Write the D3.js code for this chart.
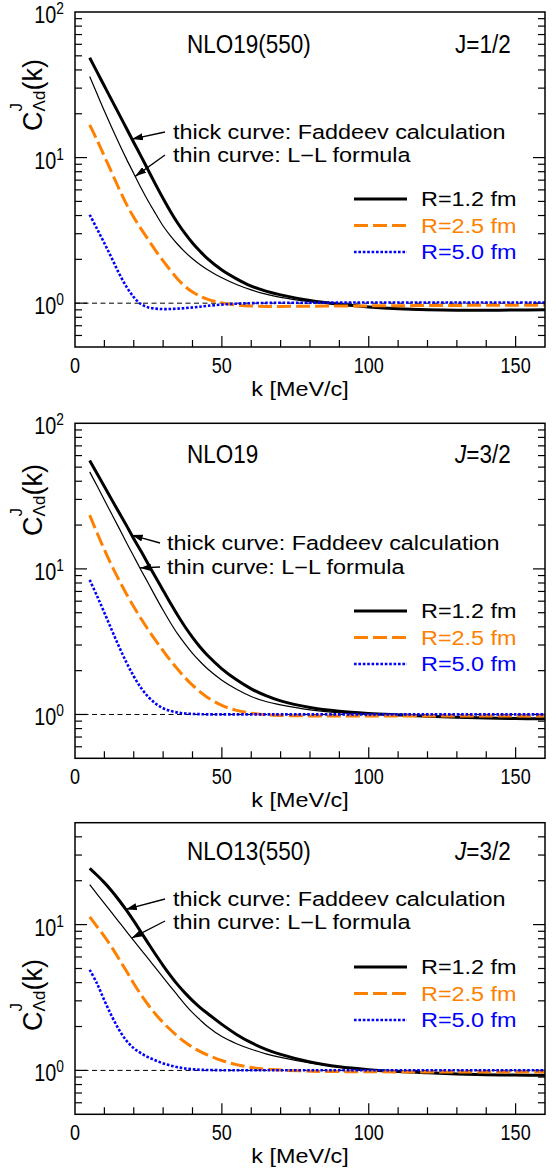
<!DOCTYPE html>
<html>
<head>
<meta charset="utf-8">
<script src="https://cdn.jsdelivr.net/npm/d3@7"></script>
<style>
  html, body { margin: 0; padding: 0; background: #fff; }
  svg { display: block; font-family: "Liberation Sans", Arial, Helvetica, sans-serif; }
</style>
</head>
<body>
<svg id="chart" width="556" height="1171"></svg>
<script>
// Relative momentum grid k [MeV/c] shared by every curve
const kGrid = [5, 7.5, 10, 12.5, 15, 17.5, 20, 22.5, 25, 27.5, 30, 32.5, 35, 37.5, 40, 42.5, 45,
               50, 55, 60, 65, 70, 80, 90, 100, 110, 120, 130, 140, 150, 160];

// NLO19(550), J=1/2
const p1Faddeev12 = [48.5, 38.8, 31.0, 24.8, 19.9, 15.9, 12.7, 10.2, 8.13, 6.5, 5.24, 4.27, 3.54, 3.0, 2.59, 2.28, 2.03,
                     1.69, 1.47, 1.31, 1.21, 1.14, 1.042, 0.982, 0.942, 0.916, 0.902, 0.895, 0.895, 0.897, 0.9];
const p1LL12      = [36.0, 27.4, 20.9, 16.1, 12.5, 9.8, 7.78, 6.18, 4.99, 4.1, 3.39, 2.9, 2.53, 2.24, 2.02, 1.845, 1.706,
                     1.493, 1.343, 1.233, 1.153, 1.096, 1.023, 0.977, 0.94, 0.916, 0.904, 0.9, 0.9, 0.902, 0.904];
const p1R25       = [16.8, 13.2, 10.2, 7.9, 6.1, 4.79, 3.89, 3.24, 2.72, 2.29, 1.95, 1.68, 1.46, 1.30, 1.195, 1.12, 1.067,
                     1.005, 0.973, 0.957, 0.95, 0.95, 0.953, 0.956, 0.958, 0.961, 0.963, 0.965, 0.967, 0.968, 0.968];
const p1R50       = [4.05, 3.24, 2.58, 2.04, 1.6, 1.3, 1.1, 0.985, 0.935, 0.917, 0.911, 0.912, 0.917, 0.925, 0.935, 0.946, 0.958,
                     0.978, 0.992, 1.0, 1.004, 1.006, 1.008, 1.009, 1.01, 1.01, 1.01, 1.01, 1.01, 1.01, 1.01];

// NLO19, J=3/2
const p2Faddeev12 = [55.5, 45.2, 36.8, 29.9, 24.4, 19.9, 16.1, 13.2, 10.7, 8.73, 7.11, 5.81, 4.78, 3.99, 3.39, 2.92, 2.56,
                     2.06, 1.73, 1.5, 1.346, 1.239, 1.117, 1.052, 1.016, 0.993, 0.973, 0.957, 0.946, 0.938, 0.933];
const p2LL12      = [46.4, 37.2, 29.7, 23.8, 19.05, 15.2, 12.2, 9.8, 7.93, 6.4, 5.2, 4.27, 3.56, 3.04, 2.63, 2.32, 2.07,
                     1.72, 1.49, 1.33, 1.227, 1.164, 1.076, 1.028, 1.005, 0.988, 0.97, 0.955, 0.944, 0.938, 0.933];
const p2R25       = [23.4, 17.7, 13.55, 10.54, 8.36, 6.73, 5.5, 4.54, 3.8, 3.21, 2.74, 2.35, 2.04, 1.786, 1.589, 1.435, 1.315,
                     1.153, 1.067, 1.021, 0.995, 0.984, 0.977, 0.975, 0.975, 0.975, 0.975, 0.975, 0.975, 0.975, 0.975];
const p2R50       = [8.4, 6.52, 5.0, 3.81, 2.92, 2.28, 1.83, 1.52, 1.318, 1.186, 1.104, 1.057, 1.03, 1.016, 1.008, 1.005, 1.002,
                     1.002, 1.002, 1.002, 1.002, 1.002, 1.002, 1.002, 1.002, 1.002, 1.002, 1.002, 1.002, 1.002, 1.002];

// NLO13(550), J=3/2
const p3Faddeev12 = [24.3, 21.8, 19.4, 17.0, 14.7, 12.56, 10.6, 8.87, 7.41, 6.21, 5.24, 4.47, 3.86, 3.39, 3.01, 2.71, 2.47,
                     2.07, 1.766, 1.549, 1.396, 1.288, 1.143, 1.059, 1.012, 0.982, 0.962, 0.946, 0.935, 0.929, 0.925];
const p3LL12      = [18.8, 16.2, 14.0, 12.08, 10.42, 8.99, 7.76, 6.71, 5.81, 5.02, 4.35, 3.76, 3.26, 2.83, 2.49, 2.23, 2.01,
                     1.706, 1.524, 1.396, 1.30, 1.23, 1.127, 1.054, 1.009, 0.982, 0.962, 0.946, 0.935, 0.929, 0.927];
const p3R25       = [11.3, 9.7, 8.3, 7.0, 5.8, 4.8, 3.95, 3.3, 2.8, 2.42, 2.13, 1.9, 1.71, 1.56, 1.44, 1.35, 1.28,
                     1.17, 1.095, 1.047, 1.02, 1.005, 0.988, 0.981, 0.978, 0.977, 0.977, 0.977, 0.977, 0.977, 0.977];
const p3R50       = [4.9, 3.94, 3.02, 2.36, 1.9, 1.6, 1.42, 1.31, 1.23, 1.17, 1.117, 1.079, 1.052, 1.03, 1.019, 1.01, 1.007,
                     1.003, 1.002, 1.002, 1.002, 1.002, 1.002, 1.002, 1.002, 1.002, 1.002, 1.002, 1.002, 1.002, 1.002];

// Axis ranges and tick labels
const kDomain = [0, 160];
const kTickValues = [0, 50, 100, 150];
const yDomains = [[0.5, 100], [0.5, 100], [0.5, 50]];
const decadeExponents = [0, 1, 2];

// Panel texts
const panelTitles = ["NLO19(550)", "NLO19", "NLO13(550)"];
const spinValues = ["1/2", "3/2", "3/2"];
const spinItalic = [false, true, true];
const legendLabels = ["R=1.2 fm", "R=2.5 fm", "R=5.0 fm"];
const noteThick = "thick curve: Faddeev calculation";
const noteThin = "thin curve: L\u2212L formula";
const xTitle = "k [MeV/c]";

const panelSeries = [
  { thick: p1Faddeev12, thin: p1LL12, r25: p1R25, r50: p1R50 },
  { thick: p2Faddeev12, thin: p2LL12, r25: p2R25, r50: p2R50 },
  { thick: p3Faddeev12, thin: p3LL12, r25: p3R25, r50: p3R50 }
];
// momentum at which each annotation arrow meets its curve
const arrowK = [[19.4, 20.5], [19.3, 22.1], [17.3, 19.3]];

// ---- layout ----
const left = 75, right = 545;
const layout = [
  { top: 12,    bottom: 347,    title: 53,  notes: [139, 162], noteX: 173, tails: [[165, 132], [165, 155]], legend: [199, 225.5, 252], yLabel: 95 },
  { top: 423.3, bottom: 758.3,  title: 463, notes: [550, 574], noteX: 167, tails: [[160, 543], [160, 567]], legend: [611, 637.5, 664], yLabel: 500 },
  { top: 822.7, bottom: 1114.3, title: 860, notes: [906, 929], noteX: 173, tails: [[165, 899], [165, 921]], legend: [967, 993.5, 1020], yLabel: 995 }
];

const ORANGE = "#ff8000", BLUE = "#0000ff";
const styles = {
  thick: { stroke: "#000", width: 3, dash: null },
  thin:  { stroke: "#000", width: 1.2, dash: null },
  r25:   { stroke: ORANGE, width: 3, dash: "14,5" },
  r50:   { stroke: BLUE, width: 2.6, dash: "2.6,1.8" }
};

const svg = d3.select("#chart");
const defs = svg.append("defs");
defs.append("marker")
  .attr("id", "arrowhead")
  .attr("viewBox", "0 0 11 7")
  .attr("refX", 11).attr("refY", 3.5)
  .attr("markerWidth", 11).attr("markerHeight", 7)
  .attr("markerUnits", "userSpaceOnUse")
  .attr("orient", "auto")
  .append("path").attr("d", "M0,0 L11,3.5 L0,7 Z").attr("fill", "#000");

function placeText(g, x, y, size, sx, anchor) {
  return g.append("text")
    .attr("transform", `translate(${x},${y}) scale(${sx},1)`)
    .attr("font-size", size)
    .attr("text-anchor", anchor || "start");
}

// log-space interpolation of a series at momentum k
function valueAt(series, k) {
  const i = d3.bisectRight(kGrid, k) - 1;
  const j = Math.min(i + 1, kGrid.length - 1);
  const t = (k - kGrid[i]) / (kGrid[j] - kGrid[i] || 1);
  return Math.pow(10, Math.log10(series[i]) * (1 - t) + Math.log10(series[j]) * t);
}

layout.forEach((L, p) => {
  const g = svg.append("g");
  const x = d3.scaleLinear().domain(kDomain).range([left, right]);
  const y = d3.scaleLog().domain(yDomains[p]).range([L.bottom, L.top]);

  const clipId = "clip" + p;
  defs.append("clipPath").attr("id", clipId)
    .append("rect").attr("x", left).attr("y", L.top)
    .attr("width", right - left).attr("height", L.bottom - L.top);

  // x ticks along the bottom edge
  const xTicks = d3.range(kDomain[0] + 10, kDomain[1], 10);
  g.append("g").selectAll("line").data(xTicks).join("line")
    .attr("x1", d => x(d)).attr("x2", d => x(d))
    .attr("y1", L.bottom).attr("y2", d => L.bottom - (d % 50 === 0 ? 11 : 7))
    .attr("stroke", "#000").attr("stroke-width", 1.2);

  // y ticks on both sides
  const [y0, y1] = yDomains[p];
  const yMinor = [], yMajor = [];
  [-1, 0, 1].forEach(e => {
    for (let m = 1; m <= 9; m++) {
      const v = +(m * Math.pow(10, e)).toPrecision(3);
      if (v > y0 * 1.0001 && v < y1 * 0.9999) (m === 1 ? yMajor : yMinor).push(v);
    }
  });
  const yt = g.append("g");
  [[left, 1], [right, -1]].forEach(([x0, dir]) => {
    yt.append("g").selectAll("line").data(yMajor.concat(yMinor)).join("line")
      .attr("x1", x0).attr("x2", d => x0 + dir * (yMajor.includes(d) ? 12 : 7))
      .attr("y1", d => y(d)).attr("y2", d => y(d))
      .attr("stroke", "#000").attr("stroke-width", 1.2);
  });

  // y tick labels 10^n
  decadeExponents.forEach(e => {
    const v = Math.pow(10, e);
    if (v < y0 || v > y1) return;
    const t = placeText(g, 64, y(v) + 11, 23, 0.86, "end");
    t.append("tspan").text("10");
    t.append("tspan").attr("font-size", 16).attr("dy", -9).text(String(e));
  });

  // x tick labels and axis title
  kTickValues.forEach(v => {
    placeText(g, x(v), L.bottom + 26, 22, 0.82, "middle").text(String(v));
  });
  placeText(g, 300, L.bottom + 49, 20, 1.17, "middle").text(xTitle);

  // y axis title  C^J_{Λd}(k)
  const yl = g.append("text")
    .attr("transform", `translate(42,${L.yLabel}) rotate(-90)`)
    .attr("font-size", 27);
  yl.append("tspan").text("C");
  const tJ = yl.append("tspan").attr("font-size", 17).attr("dy", -20).text("J");
  const tL = yl.append("tspan").attr("font-size", 17).attr("dy", 23).text("\u039Bd");
  yl.append("tspan").attr("dy", -3).text("(k)");
  tL.attr("dx", -tJ.node().getComputedTextLength());
  const bb = yl.node().getBBox();
  yl.attr("x", -(bb.x + bb.width / 2));

  // reference line C = 1
  g.append("line")
    .attr("x1", left).attr("x2", right).attr("y1", y(1)).attr("y2", y(1))
    .attr("stroke", "#000").attr("stroke-width", 1).attr("stroke-dasharray", "5,3.5");

  // curves
  const line = d3.line().x(d => x(d[0])).y(d => y(d[1])).curve(d3.curveCatmullRom.alpha(0.5));
  const cg = g.append("g").attr("clip-path", `url(#${clipId})`);
  ["thin", "thick", "r25", "r50"].forEach(key => {
    const s = styles[key];
    cg.append("path")
      .datum(kGrid.map((k, i) => [k, panelSeries[p][key][i]]))
      .attr("d", line)
      .attr("fill", "none")
      .attr("stroke", s.stroke)
      .attr("stroke-width", s.width)
      .attr("stroke-dasharray", s.dash)
      .attr("stroke-linejoin", "round");
  });

  // frame
  g.append("rect")
    .attr("x", left).attr("y", L.top)
    .attr("width", right - left).attr("height", L.bottom - L.top)
    .attr("fill", "none").attr("stroke", "#000").attr("stroke-width", 1.5);

  // titles
  placeText(g, 187, L.title, 25, 0.9).text(panelTitles[p]);
  const js = placeText(g, 455, L.title, 25, 0.9);
  js.append("tspan").attr("font-style", spinItalic[p] ? "italic" : "normal").text("J");
  js.append("tspan").text("=" + spinValues[p]);

  // annotations with arrows
  [noteThick, noteThin].forEach((txt, i) => {
    placeText(g, L.noteX, L.notes[i], 19.5, 1.2).text(txt);
    const series = i === 0 ? panelSeries[p].thick : panelSeries[p].thin;
    const kk = arrowK[p][i];
    g.append("line")
      .attr("x1", L.tails[i][0]).attr("y1", L.tails[i][1])
      .attr("x2", x(kk)).attr("y2", y(valueAt(series, kk)))
      .attr("stroke", "#000").attr("stroke-width", 1.3)
      .attr("marker-end", "url(#arrowhead)");
  });

  // legend
  const legendKeys = ["thick", "r25", "r50"];
  const legendColors = ["#000", ORANGE, BLUE];
  legendKeys.forEach((key, i) => {
    const s = styles[key];
    const ly = L.legend[i];
    g.append("line")
      .attr("x1", 354).attr("x2", 407).attr("y1", ly).attr("y2", ly)
      .attr("stroke", s.stroke).attr("stroke-width", s.width)
      .attr("stroke-dasharray", s.dash);
    placeText(g, 421, ly + 7, 19.5, 1.2).attr("fill", legendColors[i]).text(legendLabels[i]);
  });
});
</script>
</body>
</html>
